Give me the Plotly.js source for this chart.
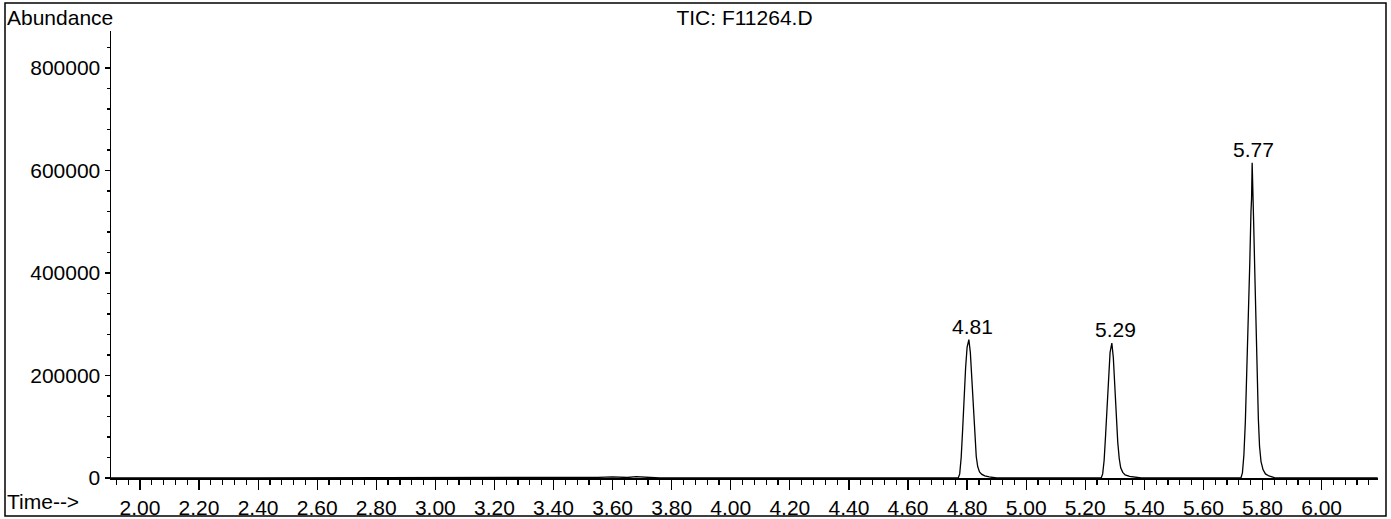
<!DOCTYPE html>
<html>
<head>
<meta charset="utf-8">
<script src="https://cdn.plot.ly/plotly-3.0.1.min.js"></script>
<style>
  html, body { margin: 0; padding: 0; background: #fff; }
  #chart { width: 1391px; height: 519px; }
</style>
</head>
<body>
<div id="chart"></div>
<script>
// ---- Data ----
const chartTitle = "TIC: F11264.D";
const yLabel = "Abundance";
const xLabel = "Time-->";

// Baseline segments (min, abundance)
const baseTime = [1.90, 3.50, 3.55, 3.60, 3.65, 3.68, 3.72, 3.76, 4.76];
const baseAbund = [0, 0, 1200, 2000, 1000, 2500, 800, 0, 0];

// Peak 1 (RT 4.81)
const peak1Time = [4.770, 4.775, 4.780, 4.785, 4.790, 4.795, 4.800, 4.806, 4.811, 4.816, 4.821, 4.826, 4.831, 4.836, 4.842, 4.850, 4.860, 4.875, 4.890];
const peak1Abund = [0, 8000, 40000, 95000, 160000, 215000, 255000, 270000, 245000, 195000, 135000, 80000, 42000, 22000, 12000, 7000, 4000, 2000, 0];

// Baseline between
const gap1Time = [4.90, 5.25];
const gap1Abund = [0, 0];

// Peak 2 (RT 5.29)
const peak2Time = [5.254, 5.259, 5.264, 5.269, 5.274, 5.279, 5.284, 5.290, 5.295, 5.300, 5.305, 5.310, 5.315, 5.320, 5.327, 5.335, 5.350, 5.365, 5.380];
const peak2Abund = [0, 8000, 35000, 85000, 145000, 200000, 245000, 263000, 235000, 180000, 120000, 70000, 38000, 20000, 11000, 6000, 3000, 1500, 0];

const gap2Time = [5.39, 5.72];
const gap2Abund = [0, 0];

// Peak 3 (RT 5.77)
const peak3Time = [5.727, 5.732, 5.737, 5.742, 5.747, 5.752, 5.757, 5.761, 5.763, 5.765, 5.767, 5.770, 5.774, 5.778, 5.782, 5.786, 5.790, 5.795, 5.802, 5.810, 5.822, 5.835, 5.845];
const peak3Abund = [0, 10000, 45000, 110000, 200000, 310000, 420000, 520000, 545000, 615000, 540000, 500000, 400000, 295000, 195000, 115000, 62000, 32000, 16000, 8000, 4000, 1500, 0];

const tailTime = [5.86, 6.19];
const tailAbund = [0, 0];

// Peak labels
const peakLabels = ["4.81", "5.29", "5.77"];
const peakLabelTime = [4.806, 5.290, 5.765];
const peakLabelAbund = [270000, 263000, 615000];

// Axis ticks
const yTickVals = [0, 200000, 400000, 600000, 800000];

// ---- Build ----
const times = [].concat(baseTime, peak1Time, gap1Time, peak2Time, gap2Time, peak3Time, tailTime);
const abund = [].concat(baseAbund, peak1Abund, gap1Abund, peak2Abund, gap2Abund, peak3Abund, tailAbund);

const FONT = "Liberation Sans, Arial, Helvetica, sans-serif";
const FS = 21;
const W = 1391, H = 519;
const L = 111, R = 13, T = 31, B = 41;
const PW = W - L - R, PH = H - T - B;
const px = x => (x - L) / PW;          // pixel -> paper x
const py = y => (H - B - y) / PH;      // pixel -> paper y

const trace = {
  x: times, y: abund, type: 'scatter', mode: 'lines',
  line: { color: '#000', width: 1.3 }, hoverinfo: 'skip', showlegend: false
};

const xshifts = [4, 4, 1];
const annotations = peakLabels.map((t, i) => ({
  x: peakLabelTime[i], y: peakLabelAbund[i], xref: 'x', yref: 'y',
  text: t, showarrow: false, xanchor: 'center', yanchor: 'bottom',
  xshift: xshifts[i], yshift: 0,
  font: { family: FONT, size: FS, color: '#000' }
}));
annotations.push({
  x: px(5), y: py(17.5), xref: 'paper', yref: 'paper', text: yLabel,
  showarrow: false, xanchor: 'left', yanchor: 'middle',
  font: { family: FONT, size: FS, color: '#000' }
});
annotations.push({
  x: px(5), y: py(502), xref: 'paper', yref: 'paper', text: xLabel,
  showarrow: false, xanchor: 'left', yanchor: 'middle',
  font: { family: FONT, size: FS, color: '#000' }
});

const layout = {
  width: W, height: H,
  margin: { l: L, r: R, t: T, b: B, pad: 0 },
  paper_bgcolor: '#fff', plot_bgcolor: '#fff',
  font: { family: FONT, size: FS, color: '#000' },
  title: {
    text: chartTitle, xref: 'paper', x: 0.5, xanchor: 'center',
    yref: 'container', y: 1 - 17.5 / H, yanchor: 'middle',
    font: { family: FONT, size: FS, color: '#000' }
  },
  xaxis: {
    range: [1.902, 6.191], tick0: 2.0, dtick: 0.2, tickformat: '.2f',
    showgrid: false, zeroline: false, showline: true, linecolor: '#000', linewidth: 1.5,
    ticks: 'outside', ticklen: 10, tickwidth: 1.2, tickcolor: '#000',
    minor: { dtick: 0.04, ticks: 'outside', ticklen: 5, tickwidth: 1.2, tickcolor: '#000', showgrid: false },
    tickfont: { family: FONT, size: FS, color: '#000' },
    fixedrange: true
  },
  yaxis: {
    range: [0, 872000], tickvals: yTickVals, tickformat: 'd',
    showgrid: false, zeroline: false, showline: true, linecolor: '#000', linewidth: 1.5,
    ticks: 'outside', ticklen: 5, tickwidth: 1.2, tickcolor: '#000',
    minor: { dtick: 40000, ticks: 'outside', ticklen: 3, tickwidth: 1.2, tickcolor: '#000', showgrid: false },
    tickfont: { family: FONT, size: FS, color: '#000' },
    fixedrange: true
  },
  shapes: [{
    type: 'rect', xref: 'paper', yref: 'paper',
    x0: px(5), x1: px(1386), y0: py(516), y1: py(3),
    line: { color: '#000', width: 1.5 }, fillcolor: 'rgba(0,0,0,0)', layer: 'below'
  }],
  annotations: annotations,
  showlegend: false
};

Plotly.newPlot('chart', [trace], layout, { staticPlot: true, displayModeBar: false });
</script>
</body>
</html>
